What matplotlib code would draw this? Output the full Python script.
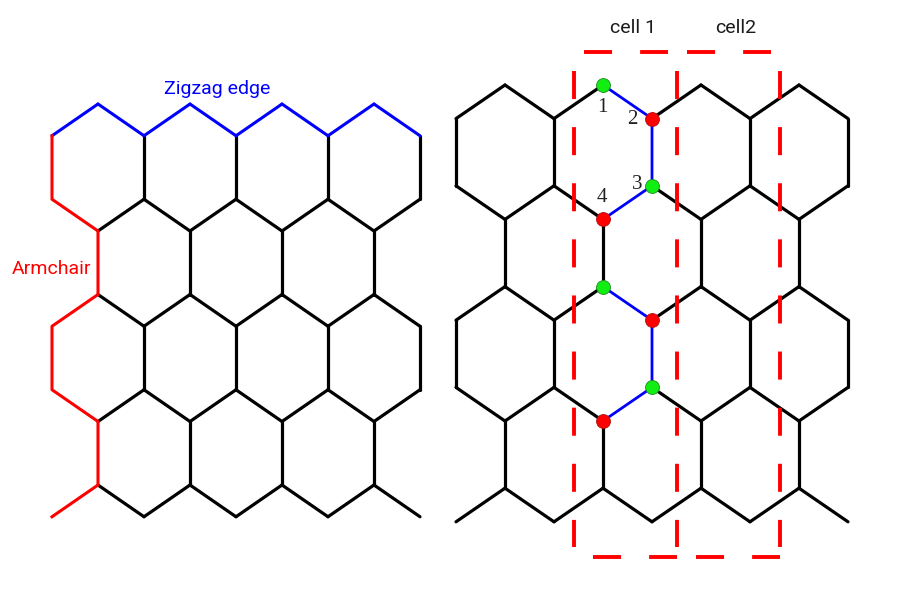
import matplotlib
matplotlib.use("Agg")
import matplotlib.pyplot as plt
from matplotlib.collections import LineCollection

plt.rcParams["lines.scale_dashes"] = False

# honeycomb: vertex columns at half-hex steps, 10 vertex levels (top -> bottom)
N_COLS = 8
LEVELS = [0.0, 0.5, 1.5, 2.0, 3.0, 3.5, 4.5, 5.0, 6.0, 6.5]

# left panel: edge highlights
ZIGZAG_BAND = 0
ARMCHAIR_PATH = [(0, 1), (0, 2), (1, 3), (1, 4), (0, 5), (0, 6), (1, 7), (1, 8), (0, 9)]

# right panel: atom chain + unit cells
CHAINS = [[(3, 0), (4, 1), (4, 2), (3, 3)],
          [(3, 4), (4, 5), (4, 6), (3, 7)]]
GREEN_SITES = [(3, 0), (4, 2), (3, 4), (4, 6)]
RED_SITES = [(4, 1), (3, 3), (4, 5), (3, 7)]
SITE_LABELS = ["1", "2", "3", "4"]
LABELLED_SITES = [(3, 0), (4, 1), (4, 2), (3, 3)]
CELL_EDGES = [2.41, 4.51, 6.61]
CELL_NAMES = ["cell 1", "cell2"]
CELL_TOP, CELL_BOTTOM = -0.49, 7.02

W, H = 899, 614
fig = plt.figure(figsize=(W / 100, H / 100), dpi=100)


def panel_axes(x0, y0, sx, sy):
    # full-figure axes, lattice units mapped onto pixel origin / scale
    ax = fig.add_axes([0, 0, 1, 1])
    ax.set_xlim(-x0 / sx, (W - x0) / sx)
    ax.set_ylim((H - y0) / sy, -y0 / sy)
    ax.axis("off")
    ax.patch.set_alpha(0)
    return ax


def pt(n):
    return (n[0], LEVELS[n[1]])


def lattice_edges():
    edges = []
    for b in range(5):
        k = 2 * b
        up_odd = (b % 2 == 0)
        for x in range(N_COLS):
            a = (x, k if (x % 2 == 1) == up_odd else k + 1)
            c = (x + 1, k if ((x + 1) % 2 == 1) == up_odd else k + 1)
            edges.append((a, c))
    for b in range(4):
        k = 2 * b + 1
        for x in range(b % 2, N_COLS + 1, 2):
            edges.append(((x, k), (x, k + 1)))
    return edges


def path_edges(path):
    return [(path[i], path[i + 1]) for i in range(len(path) - 1)]


def draw_lattice(ax, special, lw):
    skip = {frozenset(e) for e in special}
    segs = [[pt(a), pt(c)] for a, c in lattice_edges() if frozenset((a, c)) not in skip]
    ax.add_collection(LineCollection(segs, colors="black", linewidths=lw,
                                     capstyle="round", joinstyle="round"))


EDGES = lattice_edges()

# ---- left panel ----
axl = panel_axes(52, 104, 46, 63.5)
zig = [e for e in EDGES if e[0][1] in (2 * ZIGZAG_BAND, 2 * ZIGZAG_BAND + 1)
       and e[1][1] in (2 * ZIGZAG_BAND, 2 * ZIGZAG_BAND + 1)]
arm = path_edges(ARMCHAIR_PATH)
draw_lattice(axl, zig + arm, 2.3)
axl.add_collection(LineCollection([[pt(a), pt(c)] for a, c in zig],
                                  colors="#0000ff", linewidths=2.2, capstyle="round"))
axl.plot([pt(n)[0] for n in ARMCHAIR_PATH], [pt(n)[1] for n in ARMCHAIR_PATH],
         color="#ff0000", lw=2.2, solid_joinstyle="round")
axl.text(3.6, -0.24, "Zigzag edge", color="#0000ff", fontsize=14,
         family="Roboto", ha="center", va="center")
axl.text(0.0, 2.6, "Armchair", color="#ff0000", fontsize=14,
         family="Roboto", ha="center", va="center")

# ---- right panel ----
sx, sy = 49, 67.2
axr = panel_axes(456, 85, sx, sy)
chain = [e for c in CHAINS for e in path_edges(c)]
draw_lattice(axr, chain, 2.3)
for c in CHAINS:
    axr.plot([pt(n)[0] for n in c], [pt(n)[1] for n in c],
             color="#0000ff", lw=2.0, zorder=3)

# dashed unit cells (pixel insets keep the dash phase of the original)
px, py = 1 / sx, 1 / sy
dash = dict(color="#ff0000", lw=2.8, linestyle=(0, (20.2, 20.2)),
            solid_capstyle="butt", dash_capstyle="butt", zorder=2)
for xe in CELL_EDGES:
    axr.plot([xe, xe], [CELL_TOP + 19 * py, CELL_BOTTOM - 10 * py], **dash)
for xa, xb in zip(CELL_EDGES[:-1], CELL_EDGES[1:]):
    axr.plot([xa + 10 * px, xb - 9 * px], [CELL_TOP, CELL_TOP], **dash)
    axr.plot([xa + 19 * px, xb], [CELL_BOTTOM, CELL_BOTTOM], **dash)
for (xa, xb), name in zip(zip(CELL_EDGES[:-1], CELL_EDGES[1:]), CELL_NAMES):
    axr.text((xa + xb) / 2 + 0.15, CELL_TOP - 0.36, name, fontsize=14,
             family="Roboto", color="#1a1a1a", ha="center", va="center")

axr.scatter([pt(n)[0] for n in GREEN_SITES], [pt(n)[1] for n in GREEN_SITES],
            s=100, color="#11ee11", edgecolors="#228822", linewidths=0.6, zorder=5)
axr.scatter([pt(n)[0] for n in RED_SITES], [pt(n)[1] for n in RED_SITES],
            s=100, color="#ff0000", edgecolors="#aa1111", linewidths=0.6, zorder=5)

# label offsets in pixels (right, down)
offsets = [(-1, 23), (-20, 1), (-15, -1), (-1, -22)]
for lab, n, (dx, dy) in zip(SITE_LABELS, LABELLED_SITES, offsets):
    axr.annotate(lab, pt(n), xytext=(dx * 0.72, -dy * 0.72), textcoords="offset points",
                 fontsize=15, family="Liberation Serif", color="#222222",
                 ha="center", va="center")

fig.savefig("out.png", dpi=100, facecolor="white")
